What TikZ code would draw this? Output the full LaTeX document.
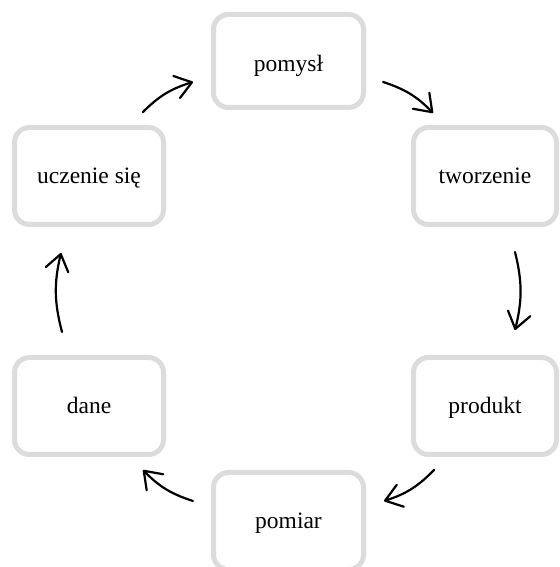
\documentclass[tikz,border=0pt]{standalone}
\usepackage{fontspec}
\setmainfont{Liberation Serif}
\usetikzlibrary{arrows.meta,calc}
\definecolor{boxgray}{HTML}{DCDCDC}
\begin{document}
\begin{tikzpicture}[x=1pt,y=1pt,
  stage/.style={draw=boxgray, line width=5pt, rounded corners=15pt, fill=white,
    font=\fontsize{23.5}{28}\selectfont, text height=17.6pt, text depth=3.5pt,
    inner sep=0pt},
  flow/.style={line width=2.2pt, line cap=round, line join=round,
    -{Straight Barb[length=16pt, width=23pt, line width=2.2pt, round]}, bend left=14}]
\useasboundingbox (0,0) rectangle (559,567);

% the six stages of the cycle
\node[stage, minimum width=150pt, minimum height=93pt, text height=21.5pt, text depth=0pt] (pomysl) at (288.5,506) {pomysł};
\node[stage, minimum width=143pt, minimum height=97pt] (tworzenie) at (485,391) {tworzenie};
\node[stage, minimum width=143pt, minimum height=97pt] (produkt) at (485,161) {produkt};
\node[stage, minimum width=150pt, minimum height=97pt] (pomiar) at (288.5,46) {pomiar};
\node[stage, minimum width=149pt, minimum height=97pt] (dane) at (89,161) {dane};
\node[stage, minimum width=149pt, minimum height=97pt] (uczenie) at (89,391) {uczenie się};

% arrow ends, placed next to the stages
\coordinate (a1s) at ($(pomysl.east)+(17,-21)$);
\coordinate (a1e) at ($(tworzenie.north)+(-52,12)$);
\coordinate (a2s) at ($(tworzenie.south)+(30,-25)$);
\coordinate (a2e) at ($(produkt.north)+(30,25)$);
\coordinate (a3s) at ($(produkt.south)+(-51,-13)$);
\coordinate (a3e) at ($(pomiar.east)+(18,20)$);
\coordinate (a4s) at ($(pomiar.west)+(-18,20)$);
\coordinate (a4e) at ($(dane.south)+(54,-13)$);
\coordinate (a5s) at ($(dane.north)+(-27,23)$);
\coordinate (a5e) at ($(uczenie.south)+(-28,-26)$);
\coordinate (a6s) at ($(uczenie.north)+(54,13)$);
\coordinate (a6e) at ($(pomysl.west)+(-18,-21)$);

% clockwise arrows
\draw[flow] (a1s) to (a1e);
\draw[flow] (a2s) to (a2e);
\draw[flow] (a3s) to (a3e);
\draw[flow] (a4s) to (a4e);
\draw[flow] (a5s) to (a5e);
\draw[flow] (a6s) to (a6e);
\end{tikzpicture}
\end{document}
